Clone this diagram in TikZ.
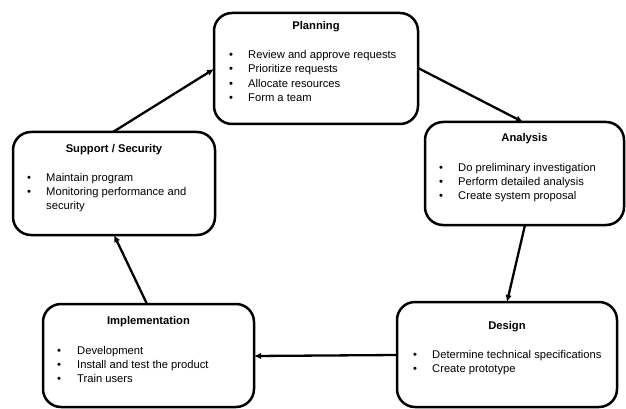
\documentclass[tikz,border=0pt]{standalone}
\usepackage{fontspec}
\setmainfont{Liberation Sans}
\usetikzlibrary{arrows.meta}
\begin{document}
\begin{tikzpicture}[x=1pt,y=-1pt,
  stage/.style={draw, line width=2.5pt, rounded corners=18pt, anchor=north west, inner sep=0pt, outer sep=0pt},
  stagetitle/.style={anchor=base, inner sep=0pt, font=\fontsize{11.2}{13}\selectfont\bfseries},
  dot/.style={anchor=base, inner sep=0pt, font=\fontsize{11.2}{13}\selectfont},
  item/.style={anchor=base west, inner sep=0pt, font=\fontsize{11.2}{13}\selectfont},
  flow/.style={line width=2.3pt, -{Latex[length=7pt,width=6.5pt]}}]
\useasboundingbox (0,0) rectangle (626,409);

% stage boxes
\node[stage, minimum width=204pt, minimum height=111pt] (plan) at (214,13) {};
\node[stage, minimum width=199pt, minimum height=103pt] (ana) at (425,122) {};
\node[stage, minimum width=220pt, minimum height=105pt] (des) at (397,302) {};
\node[stage, minimum width=211pt, minimum height=103pt] (imp) at (43,304) {};
\node[stage, minimum width=202pt, minimum height=103pt] (sup) at (13,132) {};

% Planning
\node[stagetitle] (plan-t) at ([shift={(0,17)}]plan.north) {Planning};
\node[dot] (plan-b1) at ([shift={(17,45.3)}]plan.north west) {\textbullet};
\node[dot] (plan-b2) at ([shift={(17,59.8)}]plan.north west) {\textbullet};
\node[dot] (plan-b3) at ([shift={(17,74.3)}]plan.north west) {\textbullet};
\node[dot] (plan-b4) at ([shift={(17,88.8)}]plan.north west) {\textbullet};
\node[item] (plan-1) at ([shift={(34,45.3)}]plan.north west) {Review and approve requests};
\node[item] (plan-2) at ([shift={(34,59.8)}]plan.north west) {Prioritize requests};
\node[item] (plan-3) at ([shift={(34,74.3)}]plan.north west) {Allocate resources};
\node[item] (plan-4) at ([shift={(34,88.8)}]plan.north west) {Form a team};

% Analysis
\node[stagetitle] (ana-t) at ([shift={(0,19.7)}]ana.north) {Analysis};
\node[dot] (ana-b1) at ([shift={(16,49.7)}]ana.north west) {\textbullet};
\node[dot] (ana-b2) at ([shift={(16,63.7)}]ana.north west) {\textbullet};
\node[dot] (ana-b3) at ([shift={(16,77.5)}]ana.north west) {\textbullet};
\node[item] (ana-1) at ([shift={(33,49.7)}]ana.north west) {Do preliminary investigation};
\node[item] (ana-2) at ([shift={(33,63.7)}]ana.north west) {Perform detailed analysis};
\node[item] (ana-3) at ([shift={(33,77.5)}]ana.north west) {Create system proposal};

% Design
\node[stagetitle] (des-t) at ([shift={(0,27.3)}]des.north) {Design};
\node[dot] (des-b1) at ([shift={(18,56.7)}]des.north west) {\textbullet};
\node[dot] (des-b2) at ([shift={(18,70.7)}]des.north west) {\textbullet};
\node[item] (des-1) at ([shift={(35,56.7)}]des.north west) {Determine technical specifications};
\node[item] (des-2) at ([shift={(35,70.7)}]des.north west) {Create prototype};

% Implementation
\node[stagetitle] (imp-t) at ([shift={(0,20.3)}]imp.north) {Implementation};
\node[dot] (imp-b1) at ([shift={(16,50)}]imp.north west) {\textbullet};
\node[dot] (imp-b2) at ([shift={(16,64)}]imp.north west) {\textbullet};
\node[dot] (imp-b3) at ([shift={(16,78.3)}]imp.north west) {\textbullet};
\node[item] (imp-1) at ([shift={(34,50)}]imp.north west) {Development};
\node[item] (imp-2) at ([shift={(34,64)}]imp.north west) {Install and test the product};
\node[item] (imp-3) at ([shift={(34,78.3)}]imp.north west) {Train users};

% Support / Security
\node[stagetitle] (sup-t) at ([shift={(0,20)}]sup.north) {Support / Security};
\node[dot] (sup-b1) at ([shift={(16,49)}]sup.north west) {\textbullet};
\node[dot] (sup-b2) at ([shift={(16,63)}]sup.north west) {\textbullet};
\node[item] (sup-1) at ([shift={(33,49)}]sup.north west) {Maintain program};
\node[item] (sup-2) at ([shift={(33,63)}]sup.north west) {Monitoring performance and};
\node[item] (sup-3) at ([shift={(33,77)}]sup.north west) {security};

% cycle arrows
\draw[flow] ([shift={(100,0)}]sup.north west) -- ([shift={(0,56)}]plan.north west);
\draw[flow] ([shift={(0,55)}]plan.north east) -- ([shift={(98,0)}]ana.north west);
\draw[flow] ([shift={(100,0)}]ana.south west) -- ([shift={(110,0)}]des.north west);
\draw[flow] ([shift={(0,53)}]des.north west) -- ([shift={(0,52)}]imp.north east);
\draw[flow] ([shift={(104,0)}]imp.north west) -- ([shift={(101,0)}]sup.south west);
\end{tikzpicture}
\end{document}
